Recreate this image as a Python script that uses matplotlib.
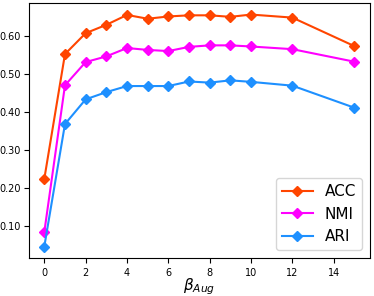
import matplotlib
matplotlib.use("Agg")
import matplotlib.pyplot as plt
from matplotlib.ticker import FormatStrFormatter

beta = [0, 1, 2, 3, 4, 5, 6, 7, 8, 9, 10, 12, 15]
acc = [0.225, 0.553, 0.608, 0.630, 0.656, 0.646, 0.652, 0.655, 0.655, 0.651, 0.657, 0.649, 0.574]
nmi = [0.085, 0.471, 0.532, 0.547, 0.569, 0.564, 0.561, 0.572, 0.576, 0.576, 0.573, 0.566, 0.533]
ari = [0.047, 0.369, 0.434, 0.453, 0.469, 0.469, 0.469, 0.481, 0.478, 0.484, 0.480, 0.470, 0.412]

fig = plt.figure(figsize=(3.74, 2.96), dpi=100)
ax = fig.add_axes([0.077, 0.128, 0.912, 0.862])
ax.plot(beta, acc, marker='D', color='#FF4500', markersize=5, linewidth=1.5, label='ACC')
ax.plot(beta, nmi, marker='D', color='#FF00FF', markersize=5, linewidth=1.5, label='NMI')
ax.plot(beta, ari, marker='D', color='#1E90FF', markersize=5, linewidth=1.5, label='ARI')
ax.set_xticks([0, 2, 4, 6, 8, 10, 12, 14])
ax.set_yticks([0.1, 0.2, 0.3, 0.4, 0.5, 0.6])
ax.yaxis.set_major_formatter(FormatStrFormatter('%.2f'))
ax.tick_params(labelsize=7)
ax.tick_params(axis='y', pad=2)
ax.set_xlabel(r'$\beta_{Aug}$', fontsize=11, labelpad=-1)
ax.legend(loc='lower right', fontsize=11)
fig.savefig('out.png', dpi=100)
